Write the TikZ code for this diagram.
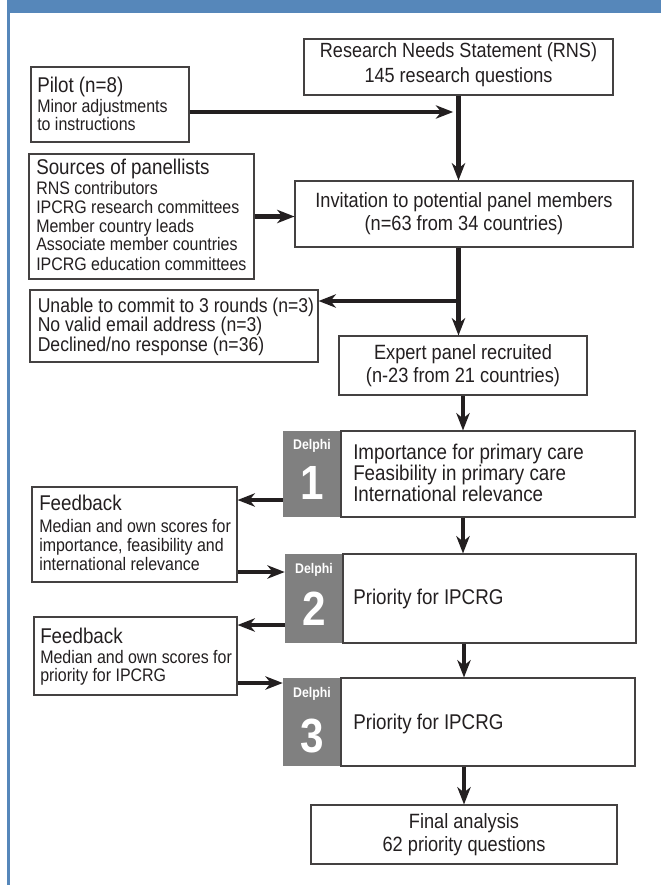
\documentclass[tikz,border=0pt]{standalone}
\usepackage{fontspec}
\setmainfont[FakeStretch=0.88]{Liberation Sans}
\usetikzlibrary{arrows.meta,fit}
\definecolor{hdr}{RGB}{86,135,186}
\definecolor{dgrey}{RGB}{128,128,128}
\definecolor{ink}{RGB}{35,31,32}
\newcommand{\bigf}{\fontsize{15}{17.3}\selectfont}
\newcommand{\headf}{\fontsize{16}{18}\selectfont}
\newcommand{\midf}{\fontsize{15.5}{17.3}\selectfont}
\newcommand{\smf}{\fontsize{13.6}{15}\selectfont}
\begin{document}
\begin{tikzpicture}[x=0.75pt,y=-0.75pt,
 box/.style={draw=ink!85, line width=0.8pt, inner sep=0pt, fill=white},
 gbox/.style={fill=dgrey, inner sep=0pt},
 ctext/.style={align=center, inner sep=0pt, text=ink, font=\midf},
 flow/.style={line width=3.2pt, draw=ink, -{Stealth[length=13pt,width=10pt,inset=4pt]}},
 big/.style={anchor=base west, inner sep=0pt, text=ink, font=\bigf},
 head/.style={anchor=base west, inner sep=0pt, text=ink, font=\headf},
 sm/.style={anchor=base west, inner sep=0pt, text=ink, font=\smf},
 dlab/.style={inner sep=0pt, text=white, font=\fontsize{10.5}{12}\selectfont\bfseries},
 dnum/.style={inner sep=0pt, text=white, font=\fontsize{36}{38}\selectfont\bfseries},
 ]
\useasboundingbox (0,0) rectangle (661,885);
\fill[hdr] (7,0) rectangle (661,13);
\fill[hdr] (6.5,13) rectangle (9.5,885);

% boxes
\node[box, fit={(304,39)(613,95)}] (rns) {};
\node[box, fit={(31,67)(189,142)}] (pilot) {};
\node[box, fit={(29,154)(254,279)}] (src) {};
\node[box, fit={(295,181)(633,247)}] (inv) {};
\node[box, fit={(30,290)(318,362)}] (unable) {};
\node[box, fit={(339,336)(587,395)}] (expert) {};
\node[gbox, fit={(283,431)(341,517)}] (g1) {};
\node[box, fit={(341,431)(635,517)}] (w1) {};
\node[box, fit={(32,487)(237,582)}] (fb1) {};
\node[gbox, fit={(285,554)(343,643)}] (g2) {};
\node[box, fit={(343,554)(636,643)}] (w2) {};
\node[box, fit={(34,617)(237,695)}] (fb2) {};
\node[gbox, fit={(283,678)(341,766)}] (g3) {};
\node[box, fit={(341,678)(635,766)}] (w3) {};
\node[box, fit={(311,805)(617,864)}] (final) {};

% centred texts
\node[ctext, font=\fontsize{15.4}{18.7}\selectfont] (rnsT) at ([yshift=1.5pt]rns.center) {Research Needs Statement (RNS)\\145 research questions};
\node[ctext] (invT) at (inv.center) {Invitation to potential panel members\\(n=63 from 34 countries)};
\node[ctext] (expT) at (expert.center) {Expert panel recruited\\(n-23 from 21 countries)};
\node[ctext] (finT) at (final.center) {Final analysis\\62 priority questions};

% texts in left boxes
\node[head] (pt1) at (37,92.7) {Pilot (n=8)};
\node[sm] (pt2) at (37,112.5) {Minor adjustments};
\node[sm] (pt3) at (37,130.5) {to instructions};
\node[head] (st1) at (36,174.4) {Sources of panellists};
\node[sm] (st2) at (36,194.8) {RNS contributors};
\node[sm] (st3) at (36,213.2) {IPCRG research committees};
\node[sm] (st4) at (36,232.2) {Member country leads};
\node[sm] (st5) at (36,250.8) {Associate member countries};
\node[sm] (st6) at (36,270.5) {IPCRG education committees};
\node[big] (ut1) at (37.5,312) {Unable to commit to 3 rounds (n=3)};
\node[big] (ut2) at (37.5,331.7) {No valid email address (n=3)};
\node[big] (ut3) at (37.5,351.7) {Declined/no response (n=36)};
\node[head] (ft1) at (39,510.7) {Feedback};
\node[sm] (ft2) at (39,532.5) {Median and own scores for};
\node[sm] (ft3) at (39,551.5) {importance, feasibility and};
\node[sm] (ft4) at (39,570.5) {international relevance};
\node[head] (gt1) at (40,643.7) {Feedback};
\node[sm] (gt2) at (40,663.5) {Median and own scores for};
\node[sm] (gt3) at (40,681.5) {priority for IPCRG};

% Delphi boxes texts
\node[head] (wt1) at (353,459.7) {Importance for primary care};
\node[head] (wt2) at (353,480.7) {Feasibility in primary care};
\node[head] (wt3) at (353,501.7) {International relevance};
\node[head] (wt4) at (353,604.7) {Priority for IPCRG};
\node[head] (wt5) at (353,729.7) {Priority for IPCRG};
\node[dlab] (d1) at (312,446) {Delphi};
\node[dnum] (n1) at (312,483) {1};
\node[dlab] (d2) at (314,570) {Delphi};
\node[dnum] (n2) at (314,609) {2};
\node[dlab] (d3) at (312,694) {Delphi};
\node[dnum] (n3) at (312,736) {3};

% connectors
\path (pilot.east) ++(0,7.5) coordinate (pa);
\draw[flow] (pa) -- ([xshift=-4pt]pa -| rns.south);
\draw[flow] (rns.south) -- (rns.south |- inv.north);
\draw[flow] (src.east) -- (src.east -| inv.west);
\draw[flow] (rns.south |- inv.south) -- (rns.south |- expert.north);
\coordinate (br) at (458.5,301);
\draw[flow] (br) -- (br -| unable.east);
\draw[flow] (expert.south) -- (expert.south |- w1.north);
\path (g1.west) ++(0,26) coordinate (a1);
\draw[flow] (a1) -- (a1 -| fb1.east);
\path (fb1.east) ++(0,37.5) coordinate (a2);
\draw[flow] (a2) -- (a2 -| g2.west);
\draw[flow] (expert.south |- w1.south) -- (expert.south |- w2.north);
\path (g2.west) ++(0,26.5) coordinate (a3);
\draw[flow] (a3) -- (a3 -| fb2.east);
\path (fb2.east) ++(0,27) coordinate (a4);
\draw[flow] (a4) -- (a4 -| g3.west);
\draw[flow] (final.north |- w2.south) -- (final.north |- w3.north);
\draw[flow] (final.north |- w3.south) -- (final.north);
\end{tikzpicture}
\end{document}
